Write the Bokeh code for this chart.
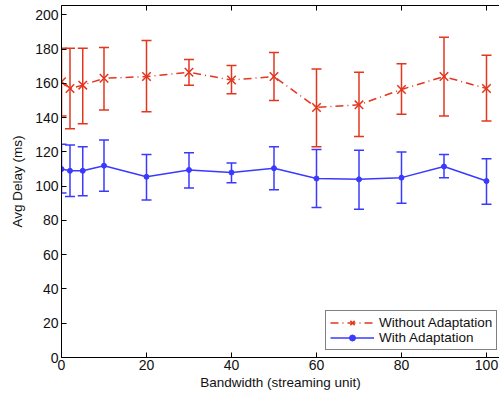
from bokeh.plotting import figure
from bokeh.models import (ColumnDataSource, Whisker, TeeHead, Range1d, LinearAxis,
                          FixedTicker, Legend, LegendItem, CustomJSTickFormatter)
from bokeh.embed import file_html
from bokeh.resources import INLINE

bandwidth = [0, 2, 5, 10, 20, 30, 40, 50, 60, 70, 80, 90, 100]
without_mean = [161, 157, 159, 163, 164, 166.5, 162, 164, 146, 147.5, 156.5, 164, 157]
without_upper = [180.5, 180.5, 180.5, 181, 185, 174, 170.5, 178, 168.5, 166.5, 171.5, 187, 176.5]
without_lower = [141, 133.5, 136.5, 144.5, 143.5, 159, 154, 150, 123, 129, 142, 141, 138]
with_mean = [110, 109, 109, 112, 105.5, 109.5, 108, 110.5, 104.5, 104, 105, 111.5, 103]
with_upper = [124.5, 124, 123, 127, 118.5, 119.5, 113.5, 123, 121.5, 121, 120, 118.5, 116]
with_lower = [96, 94, 94.5, 97, 92, 99, 102, 98, 87.5, 86.5, 90, 105, 89.5]
x_ticks = [0, 20, 40, 60, 80, 100]
y_ticks = [0, 20, 40, 60, 80, 100, 120, 140, 160, 180, 200]

RED = "#e2371e"
BLUE = "#3a3aff"
FONT = "Liberation Sans"

p = figure(width=499, height=399, output_backend="svg", toolbar_location=None,
           x_range=Range1d(0, 103.06), y_range=Range1d(0, 205.5),
           min_border_left=61, min_border_right=0, min_border_top=5, min_border_bottom=42)
p.outline_line_color = None
p.grid.visible = False
p.background_fill_color = "white"
p.border_fill_color = "white"

for ax in (p.xaxis[0], p.yaxis[0]):
    ax.major_tick_in = 5
    ax.major_tick_out = 0
    ax.minor_tick_line_color = None
    ax.axis_line_color = "black"
    ax.major_tick_line_color = "black"
    ax.major_label_text_font = FONT
    ax.major_label_text_font_size = "14px"
    ax.major_label_text_color = "#111111"
    ax.axis_label_text_font = FONT
    ax.axis_label_text_font_size = "13.5px"
    ax.axis_label_text_font_style = "normal"
    ax.axis_label_text_color = "#111111"

p.xaxis[0].ticker = FixedTicker(ticks=x_ticks)
p.yaxis[0].ticker = FixedTicker(ticks=y_ticks)
p.xaxis[0].axis_label = "Bandwidth (streaming unit)"
p.yaxis[0].axis_label = "Avg Delay (ms)"
p.xaxis[0].major_label_standoff = 2
p.xaxis[0].axis_label_standoff = 2
p.yaxis[0].major_label_standoff = 3
p.yaxis[0].axis_label_standoff = 7

top = LinearAxis(ticker=FixedTicker(ticks=x_ticks), major_tick_in=5, major_tick_out=0,
                 minor_tick_line_color=None,
                 formatter=CustomJSTickFormatter(code="return ''"),
                 major_label_standoff=0, axis_line_color="black")
p.add_layout(top, "above")

src_wo = ColumnDataSource(dict(x=bandwidth, y=without_mean, up=without_upper, lo=without_lower))
src_w = ColumnDataSource(dict(x=bandwidth, y=with_mean, up=with_upper, lo=with_lower))

for src, col in ((src_wo, RED), (src_w, BLUE)):
    wk = Whisker(source=src, base="x", upper="up", lower="lo", line_color=col, line_width=1.5,
                 upper_head=TeeHead(size=10, line_color=col, line_width=1.5),
                 lower_head=TeeHead(size=10, line_color=col, line_width=1.5))
    p.add_layout(wk)

l1 = p.line("x", "y", source=src_wo, line_color=RED, line_width=1.5, line_dash="8 4 1 4")
m1 = p.scatter("x", "y", source=src_wo, marker="x", size=12, line_color=RED, line_width=1.5)
l2 = p.line("x", "y", source=src_w, line_color=BLUE, line_width=1.5)
m2 = p.scatter("x", "y", source=src_w, marker="circle", size=5, fill_color=BLUE, line_color=BLUE)

legend = Legend(items=[LegendItem(label="Without Adaptation", renderers=[l1, m1]),
                       LegendItem(label="With Adaptation", renderers=[l2, m2])],
                location=(264, 7))
legend.label_text_font = FONT
legend.label_text_font_size = "13.5px"
legend.label_text_color = "#111111"
legend.glyph_width = 44
legend.glyph_height = 15
legend.label_height = 15
legend.label_standoff = 5
legend.spacing = 0
legend.padding = 4
legend.margin = 0
legend.border_line_color = "black"
legend.border_line_width = 1.5
legend.background_fill_color = "white"
p.add_layout(legend, "center")

open("out.html", "w").write(file_html(p, INLINE))
